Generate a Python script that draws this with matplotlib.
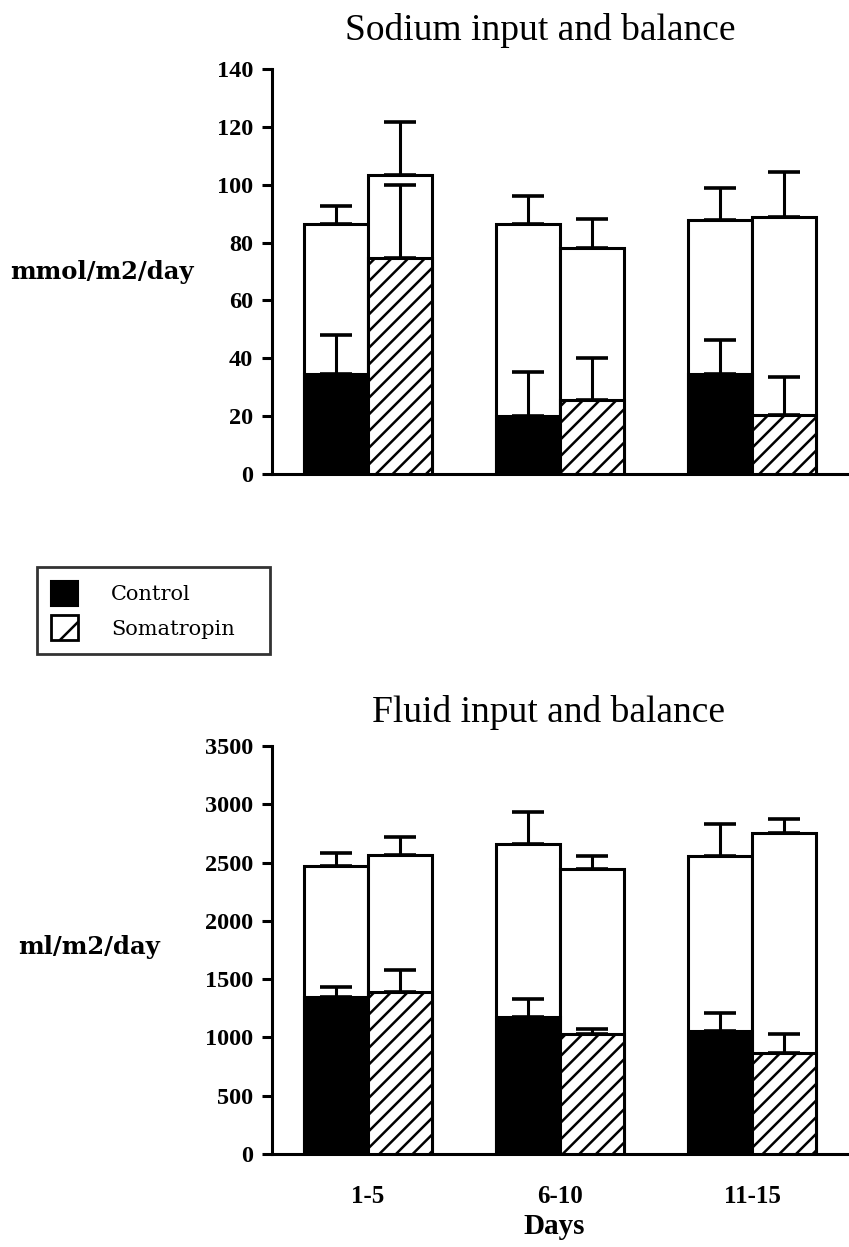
import numpy as np
import matplotlib.pyplot as plt
from matplotlib.patches import Patch

plt.rcParams['font.family'] = ['Liberation Serif', 'DejaVu Serif']
plt.rcParams['hatch.linewidth'] = 1.8

days = ['1-5', '6-10', '11-15']

# Sodium (mmol/m2/day): total input and balance, mean and upper SD
na_input_control = [86.3, 86.3, 87.9]
na_input_control_sd = [6.2, 9.8, 10.8]
na_input_soma = [103.5, 78.1, 88.9]
na_input_soma_sd = [18.2, 10.0, 15.6]
na_bal_control = [34.7, 20.2, 34.7]
na_bal_control_sd = [13.5, 15.0, 11.5]
na_bal_soma = [74.5, 25.6, 20.5]
na_bal_soma_sd = [25.4, 14.4, 13.0]

# Fluid (ml/m2/day)
fl_input_control = [2469, 2657, 2554]
fl_input_control_sd = [114, 280, 277]
fl_input_soma = [2563, 2449, 2757]
fl_input_soma_sd = [157, 108, 117]
fl_bal_control = [1349, 1174, 1054]
fl_bal_control_sd = [85, 152, 152]
fl_bal_soma = [1391, 1026, 863]
fl_bal_soma_sd = [186, 48, 163]

W, H = 849, 1247
fig = plt.figure(figsize=(W / 100, H / 100), dpi=100)

def px_axes(left, top, right, bottom):
    return fig.add_axes([left / W, 1 - bottom / H, (right - left) / W, (bottom - top) / H])

ax1 = px_axes(272, 69, 848, 474)
ax2 = px_axes(272, 746, 848, 1154)

x = np.arange(len(days))
bw = 0.333
off = bw / 2

def draw_panel(ax, inp_c, inp_c_sd, inp_s, inp_s_sd, bal_c, bal_c_sd, bal_s, bal_s_sd):
    z = np.zeros(len(days))
    # input bars (white)
    ax.bar(x - off, inp_c, bw, color='white', edgecolor='black', linewidth=2.2, zorder=2)
    ax.bar(x + off, inp_s, bw, color='white', edgecolor='black', linewidth=2.2, zorder=2)
    # balance bars inside
    ax.bar(x - off, bal_c, bw, color='black', edgecolor='black', linewidth=2.2, zorder=3)
    ax.bar(x + off, bal_s, bw, color='white', edgecolor='black', linewidth=2.2,
           hatch='//', zorder=3)
    ekw = dict(fmt='none', ecolor='black', elinewidth=2.2, capsize=11.8, capthick=2.6, zorder=4)
    ax.errorbar(x - off, inp_c, yerr=[z, inp_c_sd], **ekw)
    ax.errorbar(x + off, inp_s, yerr=[z, inp_s_sd], **ekw)
    ax.errorbar(x - off, bal_c, yerr=[z, bal_c_sd], **ekw)
    ax.errorbar(x + off, bal_s, yerr=[z, bal_s_sd], **ekw)

    ax.set_xlim(-0.5, 2.5)
    for s in ('top', 'right'):
        ax.spines[s].set_visible(False)
    for s in ('left', 'bottom'):
        ax.spines[s].set_linewidth(2.2)
    ax.tick_params(axis='y', direction='out', length=7.5, width=2.2, pad=6, labelsize=17.5)
    ax.tick_params(axis='x', length=0)

draw_panel(ax1, na_input_control, na_input_control_sd, na_input_soma, na_input_soma_sd,
           na_bal_control, na_bal_control_sd, na_bal_soma, na_bal_soma_sd)
ax1.set_ylim(0, 140)
ax1.set_yticks(np.arange(0, 141, 20))
ax1.set_xticks([])

draw_panel(ax2, fl_input_control, fl_input_control_sd, fl_input_soma, fl_input_soma_sd,
           fl_bal_control, fl_bal_control_sd, fl_bal_soma, fl_bal_soma_sd)
ax2.set_ylim(0, 3500)
ax2.set_yticks(np.arange(0, 3501, 500))
ax2.set_xticks(x)
ax2.set_xticklabels(days, fontsize=18, fontweight='bold')
ax2.tick_params(axis='x', pad=22)
for ax in (ax1, ax2):
    for lab in ax.get_yticklabels():
        lab.set_fontweight('bold')

fig.text(540 / W, 1 - 30 / H, 'Sodium input and balance', fontsize=27,
         ha='center', va='center')
fig.text(548 / W, 1 - 712 / H, 'Fluid input and balance', fontsize=27,
         ha='center', va='center')
fig.text(10 / W, 1 - 272 / H, 'mmol/m2/day', fontsize=17.5, ha='left', va='center',
         family='DejaVu Serif', fontweight='bold')
fig.text(18 / W, 1 - 947 / H, 'ml/m2/day', fontsize=17.5, ha='left', va='center',
         family='DejaVu Serif', fontweight='bold')
fig.text(554 / W, 1 - 1227 / H, 'Days', fontsize=21, ha='center', va='center',
         fontweight='bold')

handles = [Patch(facecolor='black', edgecolor='black', linewidth=1.5),
           Patch(facecolor='white', edgecolor='black', linewidth=2, hatch='/')]
leg = fig.legend(handles, ['Control', 'Somatropin'], loc='upper left',
                 bbox_to_anchor=(37 / W, 1 - 653 / H, 233 / W, 86 / H), mode='expand',
                 prop={'family': 'DejaVu Serif', 'size': 15},
                 frameon=True, fancybox=False, borderaxespad=0,
                 handlelength=1.3, handleheight=1.47, handletextpad=1.6,
                 borderpad=0.66, labelspacing=0.45)
leg.get_frame().set_edgecolor('black')
leg.get_frame().set_linewidth(2)

fig.savefig('out.png', dpi=100)
